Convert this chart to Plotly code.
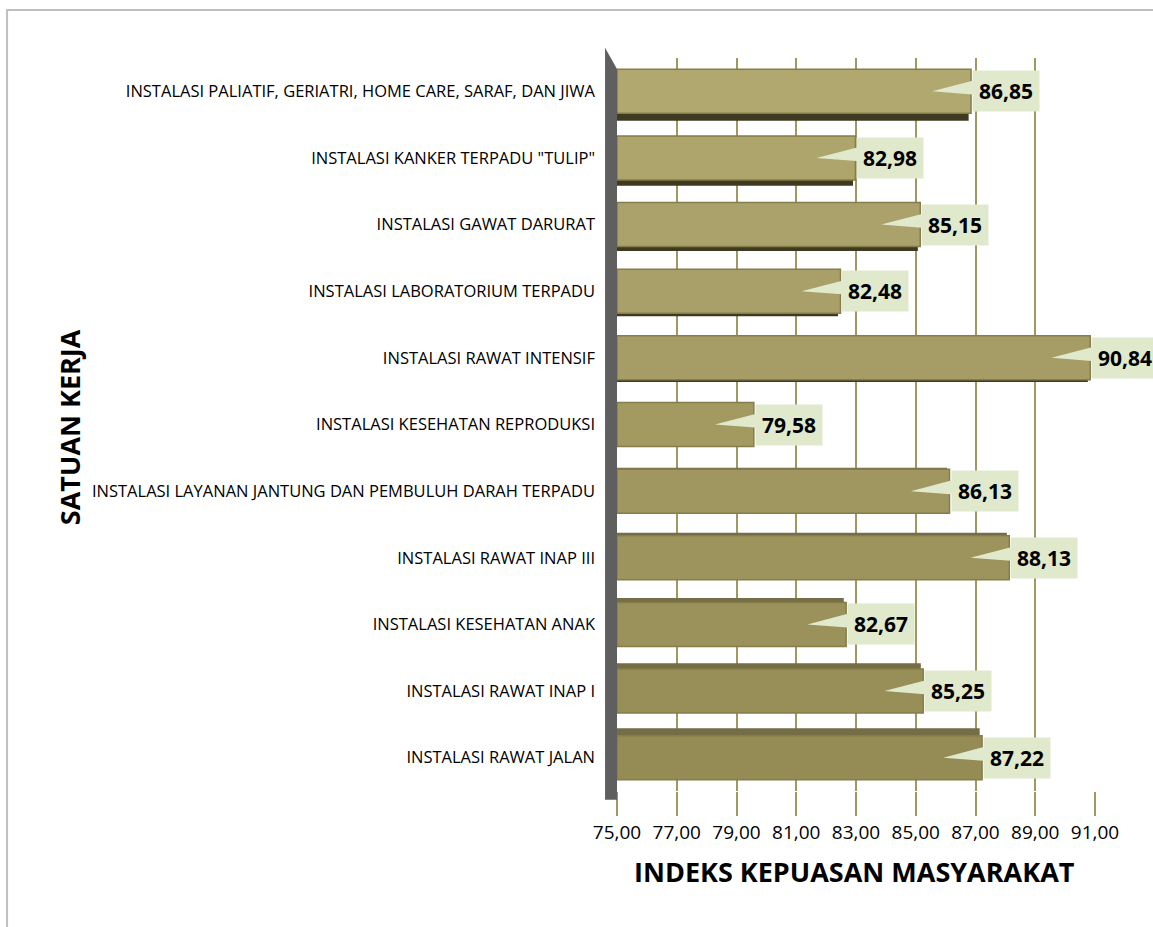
import plotly.graph_objects as go

categories = [
    "INSTALASI RAWAT JALAN",
    "INSTALASI RAWAT INAP I",
    "INSTALASI KESEHATAN ANAK",
    "INSTALASI RAWAT INAP III",
    "INSTALASI LAYANAN JANTUNG DAN PEMBULUH DARAH TERPADU",
    "INSTALASI KESEHATAN REPRODUKSI",
    "INSTALASI RAWAT INTENSIF",
    "INSTALASI LABORATORIUM TERPADU",
    "INSTALASI GAWAT DARURAT",
    'INSTALASI KANKER TERPADU "TULIP"',
    "INSTALASI PALIATIF, GERIATRI, HOME CARE, SARAF, DAN JIWA",
]
values = [87.22, 85.25, 82.67, 88.13, 86.13, 79.58, 90.84, 82.48, 85.15, 82.98, 86.85]
x_ticks = [75, 77, 79, 81, 83, 85, 87, 89, 91]
x_tick_labels = ["75,00", "77,00", "79,00", "81,00", "83,00", "85,00", "87,00", "89,00", "91,00"]

FONT = "Open Sans"
OLIVE = "#a09862"
LABEL_BG = "#e1e9cd"
BAR_W = 0.66

n = len(categories)
idx = list(range(n))


def lerp_color(c1, c2, t):
    a = [int(c1[i:i + 2], 16) for i in (1, 3, 5)]
    b = [int(c2[i:i + 2], 16) for i in (1, 3, 5)]
    return "#" + "".join(f"{round(a[k] + (b[k] - a[k]) * t):02x}" for k in range(3))


bar_colors = [lerp_color("#958b55", "#b1a870", i / (n - 1)) for i in idx]

# 3D side faces (underside for upper bars, top face for lower bars)
face_thick = [0.022 * abs(i - 5) for i in idx]
face_offset = [(-BAR_W / 2 - t) if i > 5 else (BAR_W / 2) for i, t in zip(idx, face_thick)]
face_colors = ["#3e3a22" if i > 5 else "#746d45" for i in idx]

fig = go.Figure()
fig.add_trace(go.Bar(
    x=[v - 75 - 0.08 for v in values],
    base=75,
    y=idx,
    orientation="h",
    width=face_thick,
    offset=face_offset,
    marker=dict(color=face_colors, line=dict(width=0)),
    hoverinfo="skip",
))
fig.add_trace(go.Bar(
    x=[v - 75 for v in values],
    base=75,
    y=idx,
    orientation="h",
    width=BAR_W,
    offset=-BAR_W / 2,
    marker=dict(color=bar_colors, line=dict(color="#857d4a", width=1.5)),
    hoverinfo="skip",
))

shapes = []
# border frame
shapes.append(dict(type="rect", xref="paper", yref="paper",
                   x0=-1.276, x1=1.3, y0=-0.4, y1=1.0655,
                   line=dict(color="#bfbfbf", width=2), fillcolor="rgba(0,0,0,0)", layer="below"))
# left wall
shapes.append(dict(type="path", xref="paper", yref="paper",
                   path="M -0.025,-0.012 L -0.025,1.014 L 0.0,0.985 L 0.0,-0.012 Z",
                   fillcolor="#5f5f5f", line=dict(width=0), layer="above"))

annotations = []
for i, v in enumerate(values):
    # callout wedge
    shapes.append(dict(type="path", xref="x", yref="y",
                       path=f"M {v - 1.3},{i} L {v + 0.15},{i + 0.17} L {v + 0.15},{i - 0.05} Z",
                       fillcolor=LABEL_BG, line=dict(width=0), layer="above"))
    annotations.append(dict(
        x=v, y=i, xref="x", yref="y", xanchor="left", yanchor="middle", xshift=1,
        text=f"<b>{v:.2f}</b>".replace(".", ","), showarrow=False,
        font=dict(family=FONT, size=21, color="#000000"),
        bgcolor=LABEL_BG, borderpad=6,
    ))

annotations.append(dict(
    x=0.496, y=-0.1105, xref="paper", yref="paper", xanchor="center", yanchor="middle",
    text="<b>INDEKS KEPUASAN MASYARAKAT</b>", showarrow=False,
    font=dict(family=FONT, size=27, color="#000000"),
))
annotations.append(dict(
    x=-1.144, y=0.4966, xref="paper", yref="paper", xanchor="center", yanchor="middle",
    text="<b>SATUAN KERJA</b>", showarrow=False, textangle=-90,
    font=dict(family=FONT, size=27, color="#000000"),
))

fig.update_layout(
    width=1153, height=927,
    margin=dict(l=617, r=58, t=58, b=136),
    paper_bgcolor="white", plot_bgcolor="white",
    showlegend=False,
    barmode="overlay",
    shapes=shapes,
    annotations=annotations,
    xaxis=dict(
        range=[75, 91], tickvals=x_ticks, ticktext=x_tick_labels,
        showgrid=True, gridcolor=OLIVE, gridwidth=2,
        ticks="outside", ticklen=24, tickwidth=2, tickcolor=OLIVE,
        tickfont=dict(family=FONT, size=19, color="#000000"),
        zeroline=False, showline=False, fixedrange=True,
    ),
    yaxis=dict(
        range=[-0.5, n - 0.5], tickvals=idx, ticktext=categories,
        showgrid=False, zeroline=False, showline=False,
        tickfont=dict(family=FONT, size=16.5, color="#000000"),
        ticklabelstandoff=21, fixedrange=True,
    ),
)

fig.write_html("out.html", config={"displayModeBar": False},
               post_script="document.body.style.margin='0';document.body.style.overflow='hidden';")
